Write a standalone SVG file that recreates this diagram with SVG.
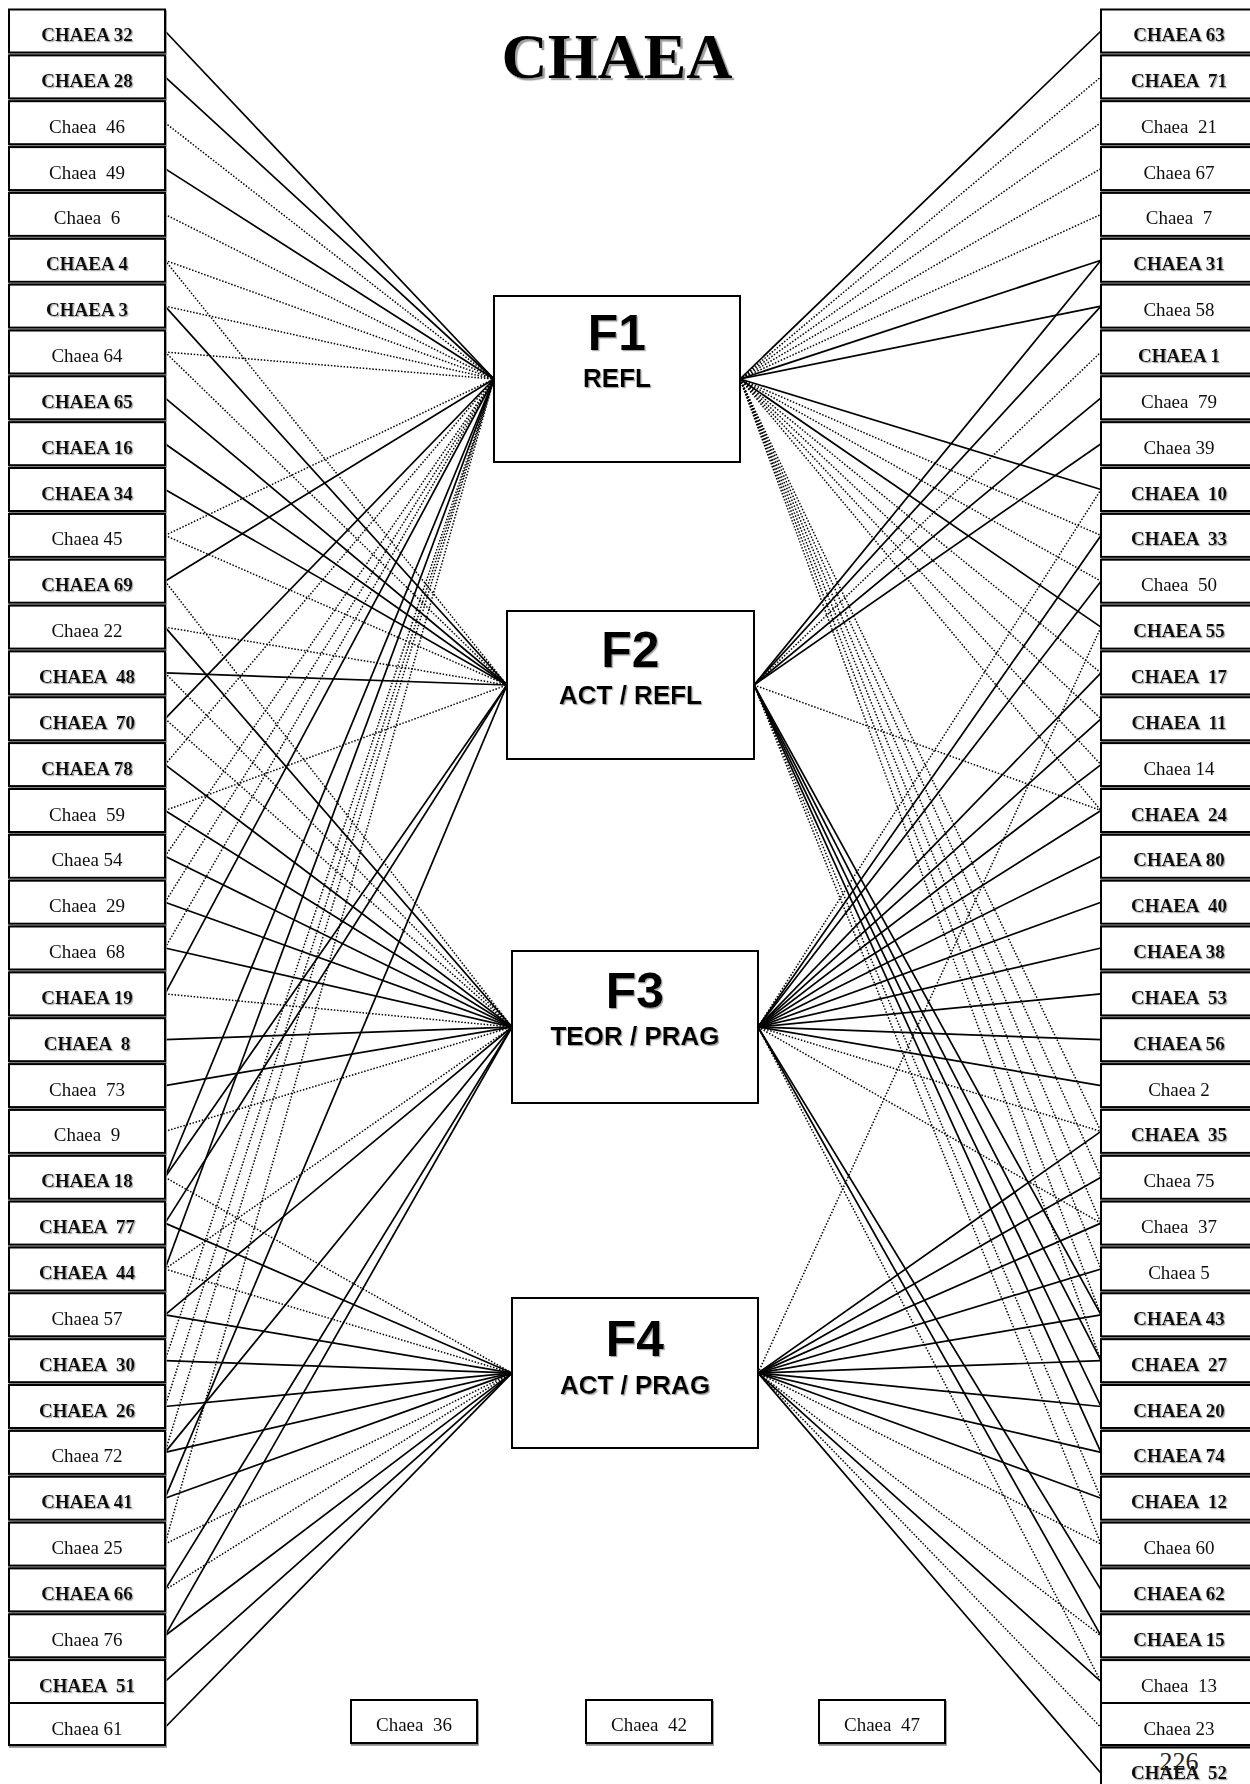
<svg xmlns="http://www.w3.org/2000/svg" width="1250" height="1784" viewBox="0 0 1250 1784">
<defs>
<filter id="ts" x="-10%" y="-20%" width="130%" height="160%"><feDropShadow dx="1.2" dy="1.2" stdDeviation="0.3" flood-color="#a8a8a8" flood-opacity="1"/></filter>
<filter id="tsb" x="-10%" y="-20%" width="130%" height="160%"><feDropShadow dx="2.2" dy="2.2" stdDeviation="0.6" flood-color="#a0a0a0" flood-opacity="1"/></filter>
<filter id="bs" x="-5%" y="-10%" width="110%" height="130%"><feDropShadow dx="0.8" dy="1.8" stdDeviation="0.3" flood-color="#888" flood-opacity="1"/></filter>
</defs>
<style>
.box{fill:#fff;stroke:#000;stroke-width:2}
.sh{filter:url(#bs)}
.fbox{fill:#fff;stroke:#000;stroke-width:2}
.lb{font-family:"Liberation Serif","Times New Roman",serif;font-size:19px;text-anchor:middle;fill:#111;white-space:pre}
.b{font-weight:bold;filter:url(#ts)}
.ft{font-family:"Liberation Sans",Arial,sans-serif;font-weight:bold;text-anchor:middle;fill:#000;filter:url(#ts)}
.fn{font-size:50px}
.fs{font-size:26px}
.title{font-family:"Liberation Serif","Times New Roman",serif;font-weight:bold;font-size:64px;text-anchor:middle;filter:url(#tsb)}
.s{stroke:#000;stroke-width:1.7;fill:none}
.d{stroke:#000;stroke-width:1.5;stroke-dasharray:1.5 1.7;fill:none}
</style>
<rect width="1250" height="1784" fill="#fff"/>

<!-- connectors -->
<g id="connectors">
<!-- left column to factors -->
<line class="s" x1="165" y1="31" x2="494" y2="379"/>
<line class="s" x1="165" y1="76.9" x2="494" y2="379"/>
<line class="d" x1="165" y1="122.7" x2="494" y2="379"/>
<line class="s" x1="165" y1="168.6" x2="494" y2="379"/>
<line class="d" x1="165" y1="214.4" x2="494" y2="379"/>
<line class="d" x1="165" y1="260.3" x2="494" y2="379"/>
<line class="d" x1="165" y1="260.3" x2="507" y2="685"/>
<line class="d" x1="165" y1="306.1" x2="494" y2="379"/>
<line class="s" x1="165" y1="306.1" x2="507" y2="685"/>
<line class="d" x1="165" y1="352" x2="494" y2="379"/>
<line class="d" x1="165" y1="352" x2="507" y2="685"/>
<line class="s" x1="165" y1="397.8" x2="507" y2="685"/>
<line class="s" x1="165" y1="443.7" x2="507" y2="685"/>
<line class="s" x1="165" y1="489.5" x2="507" y2="685"/>
<line class="d" x1="165" y1="535.4" x2="494" y2="379"/>
<line class="d" x1="165" y1="535.4" x2="507" y2="685"/>
<line class="s" x1="165" y1="581.2" x2="494" y2="379"/>
<line class="d" x1="165" y1="581.2" x2="512" y2="1027"/>
<line class="d" x1="165" y1="627.1" x2="507" y2="685"/>
<line class="s" x1="165" y1="627.1" x2="512" y2="1027"/>
<line class="s" x1="165" y1="672.9" x2="507" y2="685"/>
<line class="d" x1="165" y1="672.9" x2="512" y2="1027"/>
<line class="s" x1="165" y1="718.8" x2="494" y2="379"/>
<line class="d" x1="165" y1="718.8" x2="512" y2="1027"/>
<line class="d" x1="165" y1="764.6" x2="494" y2="379"/>
<line class="s" x1="165" y1="764.6" x2="512" y2="1027"/>
<line class="d" x1="165" y1="810.5" x2="507" y2="685"/>
<line class="s" x1="165" y1="810.5" x2="512" y2="1027"/>
<line class="d" x1="165" y1="856.3" x2="494" y2="379"/>
<line class="s" x1="165" y1="856.3" x2="512" y2="1027"/>
<line class="d" x1="165" y1="902.2" x2="494" y2="379"/>
<line class="s" x1="165" y1="902.2" x2="512" y2="1027"/>
<line class="d" x1="165" y1="948" x2="494" y2="379"/>
<line class="s" x1="165" y1="948" x2="512" y2="1027"/>
<line class="s" x1="165" y1="993.9" x2="494" y2="379"/>
<line class="d" x1="165" y1="993.9" x2="512" y2="1027"/>
<line class="s" x1="165" y1="1039.7" x2="512" y2="1027"/>
<line class="s" x1="165" y1="1085.6" x2="512" y2="1027"/>
<line class="d" x1="165" y1="1131.4" x2="512" y2="1027"/>
<line class="s" x1="165" y1="1177.3" x2="494" y2="379"/>
<line class="s" x1="165" y1="1177.3" x2="507" y2="685"/>
<line class="d" x1="165" y1="1177.3" x2="512" y2="1373"/>
<line class="s" x1="165" y1="1223.1" x2="507" y2="685"/>
<line class="s" x1="165" y1="1223.1" x2="512" y2="1373"/>
<line class="s" x1="165" y1="1269" x2="494" y2="379"/>
<line class="d" x1="165" y1="1269" x2="512" y2="1027"/>
<line class="d" x1="165" y1="1269" x2="512" y2="1373"/>
<line class="s" x1="165" y1="1314.8" x2="512" y2="1027"/>
<line class="s" x1="165" y1="1314.8" x2="512" y2="1373"/>
<line class="d" x1="165" y1="1360.7" x2="494" y2="379"/>
<line class="s" x1="165" y1="1360.7" x2="512" y2="1373"/>
<line class="d" x1="165" y1="1406.5" x2="494" y2="379"/>
<line class="s" x1="165" y1="1406.5" x2="512" y2="1373"/>
<line class="d" x1="165" y1="1452.4" x2="494" y2="379"/>
<line class="s" x1="165" y1="1452.4" x2="512" y2="1027"/>
<line class="s" x1="165" y1="1452.4" x2="512" y2="1373"/>
<line class="s" x1="165" y1="1498.2" x2="507" y2="685"/>
<line class="s" x1="165" y1="1498.2" x2="512" y2="1373"/>
<line class="d" x1="165" y1="1544.1" x2="494" y2="379"/>
<line class="d" x1="165" y1="1544.1" x2="512" y2="1373"/>
<line class="s" x1="165" y1="1589.9" x2="512" y2="1027"/>
<line class="d" x1="165" y1="1589.9" x2="512" y2="1373"/>
<line class="s" x1="165" y1="1635.8" x2="512" y2="1027"/>
<line class="s" x1="165" y1="1635.8" x2="512" y2="1373"/>
<line class="s" x1="165" y1="1681.6" x2="512" y2="1373"/>
<line class="s" x1="165" y1="1727.5" x2="512" y2="1373"/>
<!-- factors to right column -->
<line class="s" x1="740" y1="379" x2="1101" y2="31"/>
<line class="d" x1="740" y1="379" x2="1101" y2="76.9"/>
<line class="d" x1="740" y1="379" x2="1101" y2="122.7"/>
<line class="d" x1="740" y1="379" x2="1101" y2="168.6"/>
<line class="d" x1="740" y1="379" x2="1101" y2="214.4"/>
<line class="s" x1="740" y1="379" x2="1101" y2="260.3"/>
<line class="s" x1="754" y1="685" x2="1101" y2="260.3"/>
<line class="s" x1="740" y1="379" x2="1101" y2="306.1"/>
<line class="s" x1="754" y1="685" x2="1101" y2="306.1"/>
<line class="d" x1="754" y1="685" x2="1101" y2="352"/>
<line class="s" x1="754" y1="685" x2="1101" y2="397.8"/>
<line class="s" x1="754" y1="685" x2="1101" y2="443.7"/>
<line class="s" x1="740" y1="379" x2="1101" y2="489.5"/>
<line class="d" x1="758" y1="1027" x2="1101" y2="489.5"/>
<line class="d" x1="740" y1="379" x2="1101" y2="535.4"/>
<line class="s" x1="758" y1="1027" x2="1101" y2="535.4"/>
<line class="d" x1="740" y1="379" x2="1101" y2="581.2"/>
<line class="s" x1="758" y1="1027" x2="1101" y2="581.2"/>
<line class="s" x1="740" y1="379" x2="1101" y2="627.1"/>
<line class="d" x1="758" y1="1373" x2="1101" y2="627.1"/>
<line class="d" x1="740" y1="379" x2="1101" y2="672.9"/>
<line class="s" x1="758" y1="1027" x2="1101" y2="672.9"/>
<line class="d" x1="740" y1="379" x2="1101" y2="718.8"/>
<line class="s" x1="758" y1="1027" x2="1101" y2="718.8"/>
<line class="d" x1="740" y1="379" x2="1101" y2="764.6"/>
<line class="s" x1="758" y1="1027" x2="1101" y2="764.6"/>
<line class="d" x1="740" y1="379" x2="1101" y2="810.5"/>
<line class="d" x1="754" y1="685" x2="1101" y2="810.5"/>
<line class="s" x1="758" y1="1027" x2="1101" y2="810.5"/>
<line class="s" x1="758" y1="1027" x2="1101" y2="856.3"/>
<line class="s" x1="758" y1="1027" x2="1101" y2="902.2"/>
<line class="s" x1="758" y1="1027" x2="1101" y2="948"/>
<line class="s" x1="758" y1="1027" x2="1101" y2="993.9"/>
<line class="s" x1="758" y1="1027" x2="1101" y2="1039.7"/>
<line class="s" x1="758" y1="1027" x2="1101" y2="1085.6"/>
<line class="d" x1="740" y1="379" x2="1101" y2="1131.4"/>
<line class="d" x1="758" y1="1027" x2="1101" y2="1131.4"/>
<line class="s" x1="758" y1="1373" x2="1101" y2="1131.4"/>
<line class="d" x1="740" y1="379" x2="1101" y2="1177.3"/>
<line class="s" x1="758" y1="1373" x2="1101" y2="1177.3"/>
<line class="d" x1="740" y1="379" x2="1101" y2="1223.1"/>
<line class="d" x1="758" y1="1027" x2="1101" y2="1223.1"/>
<line class="s" x1="758" y1="1373" x2="1101" y2="1223.1"/>
<line class="d" x1="740" y1="379" x2="1101" y2="1269"/>
<line class="s" x1="758" y1="1373" x2="1101" y2="1269"/>
<line class="d" x1="740" y1="379" x2="1101" y2="1314.8"/>
<line class="s" x1="754" y1="685" x2="1101" y2="1314.8"/>
<line class="s" x1="758" y1="1373" x2="1101" y2="1314.8"/>
<line class="d" x1="740" y1="379" x2="1101" y2="1360.7"/>
<line class="s" x1="754" y1="685" x2="1101" y2="1360.7"/>
<line class="s" x1="758" y1="1373" x2="1101" y2="1360.7"/>
<line class="s" x1="754" y1="685" x2="1101" y2="1406.5"/>
<line class="s" x1="758" y1="1373" x2="1101" y2="1406.5"/>
<line class="s" x1="754" y1="685" x2="1101" y2="1452.4"/>
<line class="s" x1="758" y1="1373" x2="1101" y2="1452.4"/>
<line class="d" x1="754" y1="685" x2="1101" y2="1498.2"/>
<line class="s" x1="758" y1="1373" x2="1101" y2="1498.2"/>
<line class="d" x1="754" y1="685" x2="1101" y2="1544.1"/>
<line class="d" x1="758" y1="1373" x2="1101" y2="1544.1"/>
<line class="s" x1="758" y1="1027" x2="1101" y2="1589.9"/>
<line class="s" x1="758" y1="1027" x2="1101" y2="1635.8"/>
<line class="d" x1="758" y1="1373" x2="1101" y2="1635.8"/>
<line class="d" x1="758" y1="1027" x2="1101" y2="1681.6"/>
<line class="s" x1="758" y1="1373" x2="1101" y2="1681.6"/>
<line class="d" x1="758" y1="1373" x2="1101" y2="1727.5"/>
<line class="s" x1="758" y1="1373" x2="1101" y2="1773.3"/>
</g>

<text class="title" x="617" y="78">CHAEA</text>

<!-- factor boxes -->
<g id="F1"><rect class="fbox" x="494" y="296" width="246" height="166"/><text class="ft fn" x="617" y="350">F1</text><text class="ft fs" x="617" y="387">REFL</text></g>
<g id="F2"><rect class="fbox" x="507" y="611" width="247" height="148"/><text class="ft fn" x="630.5" y="667">F2</text><text class="ft fs" x="630.5" y="704">ACT / REFL</text></g>
<g id="F3"><rect class="fbox" x="512" y="951" width="246" height="152"/><text class="ft fn" x="635" y="1008">F3</text><text class="ft fs" x="635" y="1045">TEOR / PRAG</text></g>
<g id="F4"><rect class="fbox" x="512" y="1298" width="246" height="150"/><text class="ft fn" x="635" y="1356">F4</text><text class="ft fs" x="635" y="1394">ACT / PRAG</text></g>

<!-- left column -->
<g id="L32" class="sh"><rect class="box" x="9" y="9.5" width="156" height="43"/><text class="lb b" x="87" y="41" xml:space="preserve">CHAEA 32</text></g>
<g id="L28" class="sh"><rect class="box" x="9" y="55.4" width="156" height="43"/><text class="lb b" x="87" y="86.9" xml:space="preserve">CHAEA 28</text></g>
<g id="L46" class="sh"><rect class="box" x="9" y="101.2" width="156" height="43"/><text class="lb" x="87" y="132.7" xml:space="preserve">Chaea  46</text></g>
<g id="L49" class="sh"><rect class="box" x="9" y="147.1" width="156" height="43"/><text class="lb" x="87" y="178.6" xml:space="preserve">Chaea  49</text></g>
<g id="L6" class="sh"><rect class="box" x="9" y="192.9" width="156" height="43"/><text class="lb" x="87" y="224.4" xml:space="preserve">Chaea  6</text></g>
<g id="L4" class="sh"><rect class="box" x="9" y="238.8" width="156" height="43"/><text class="lb b" x="87" y="270.3" xml:space="preserve">CHAEA 4</text></g>
<g id="L3" class="sh"><rect class="box" x="9" y="284.6" width="156" height="43"/><text class="lb b" x="87" y="316.1" xml:space="preserve">CHAEA 3</text></g>
<g id="L64" class="sh"><rect class="box" x="9" y="330.5" width="156" height="43"/><text class="lb" x="87" y="362" xml:space="preserve">Chaea 64</text></g>
<g id="L65" class="sh"><rect class="box" x="9" y="376.3" width="156" height="43"/><text class="lb b" x="87" y="407.8" xml:space="preserve">CHAEA 65</text></g>
<g id="L16" class="sh"><rect class="box" x="9" y="422.2" width="156" height="43"/><text class="lb b" x="87" y="453.7" xml:space="preserve">CHAEA 16</text></g>
<g id="L34" class="sh"><rect class="box" x="9" y="468" width="156" height="43"/><text class="lb b" x="87" y="499.5" xml:space="preserve">CHAEA 34</text></g>
<g id="L45" class="sh"><rect class="box" x="9" y="513.9" width="156" height="43"/><text class="lb" x="87" y="545.4" xml:space="preserve">Chaea 45</text></g>
<g id="L69" class="sh"><rect class="box" x="9" y="559.7" width="156" height="43"/><text class="lb b" x="87" y="591.2" xml:space="preserve">CHAEA 69</text></g>
<g id="L22" class="sh"><rect class="box" x="9" y="605.6" width="156" height="43"/><text class="lb" x="87" y="637.1" xml:space="preserve">Chaea 22</text></g>
<g id="L48" class="sh"><rect class="box" x="9" y="651.4" width="156" height="43"/><text class="lb b" x="87" y="682.9" xml:space="preserve">CHAEA  48</text></g>
<g id="L70" class="sh"><rect class="box" x="9" y="697.3" width="156" height="43"/><text class="lb b" x="87" y="728.8" xml:space="preserve">CHAEA  70</text></g>
<g id="L78" class="sh"><rect class="box" x="9" y="743.1" width="156" height="43"/><text class="lb b" x="87" y="774.6" xml:space="preserve">CHAEA 78</text></g>
<g id="L59" class="sh"><rect class="box" x="9" y="789" width="156" height="43"/><text class="lb" x="87" y="820.5" xml:space="preserve">Chaea  59</text></g>
<g id="L54" class="sh"><rect class="box" x="9" y="834.8" width="156" height="43"/><text class="lb" x="87" y="866.3" xml:space="preserve">Chaea 54</text></g>
<g id="L29" class="sh"><rect class="box" x="9" y="880.7" width="156" height="43"/><text class="lb" x="87" y="912.2" xml:space="preserve">Chaea  29</text></g>
<g id="L68" class="sh"><rect class="box" x="9" y="926.5" width="156" height="43"/><text class="lb" x="87" y="958" xml:space="preserve">Chaea  68</text></g>
<g id="L19" class="sh"><rect class="box" x="9" y="972.4" width="156" height="43"/><text class="lb b" x="87" y="1003.9" xml:space="preserve">CHAEA 19</text></g>
<g id="L8" class="sh"><rect class="box" x="9" y="1018.2" width="156" height="43"/><text class="lb b" x="87" y="1049.7" xml:space="preserve">CHAEA  8</text></g>
<g id="L73" class="sh"><rect class="box" x="9" y="1064.1" width="156" height="43"/><text class="lb" x="87" y="1095.6" xml:space="preserve">Chaea  73</text></g>
<g id="L9" class="sh"><rect class="box" x="9" y="1109.9" width="156" height="43"/><text class="lb" x="87" y="1141.4" xml:space="preserve">Chaea  9</text></g>
<g id="L18" class="sh"><rect class="box" x="9" y="1155.8" width="156" height="43"/><text class="lb b" x="87" y="1187.3" xml:space="preserve">CHAEA 18</text></g>
<g id="L77" class="sh"><rect class="box" x="9" y="1201.6" width="156" height="43"/><text class="lb b" x="87" y="1233.1" xml:space="preserve">CHAEA  77</text></g>
<g id="L44" class="sh"><rect class="box" x="9" y="1247.5" width="156" height="43"/><text class="lb b" x="87" y="1279" xml:space="preserve">CHAEA  44</text></g>
<g id="L57" class="sh"><rect class="box" x="9" y="1293.3" width="156" height="43"/><text class="lb" x="87" y="1324.8" xml:space="preserve">Chaea 57</text></g>
<g id="L30" class="sh"><rect class="box" x="9" y="1339.2" width="156" height="43"/><text class="lb b" x="87" y="1370.7" xml:space="preserve">CHAEA  30</text></g>
<g id="L26" class="sh"><rect class="box" x="9" y="1385" width="156" height="43"/><text class="lb b" x="87" y="1416.5" xml:space="preserve">CHAEA  26</text></g>
<g id="L72" class="sh"><rect class="box" x="9" y="1430.9" width="156" height="43"/><text class="lb" x="87" y="1462.4" xml:space="preserve">Chaea 72</text></g>
<g id="L41" class="sh"><rect class="box" x="9" y="1476.7" width="156" height="43"/><text class="lb b" x="87" y="1508.2" xml:space="preserve">CHAEA 41</text></g>
<g id="L25" class="sh"><rect class="box" x="9" y="1522.6" width="156" height="43"/><text class="lb" x="87" y="1554.1" xml:space="preserve">Chaea 25</text></g>
<g id="L66" class="sh"><rect class="box" x="9" y="1568.4" width="156" height="43"/><text class="lb b" x="87" y="1599.9" xml:space="preserve">CHAEA 66</text></g>
<g id="L76" class="sh"><rect class="box" x="9" y="1614.3" width="156" height="43"/><text class="lb" x="87" y="1645.8" xml:space="preserve">Chaea 76</text></g>
<g id="L51" class="sh"><rect class="box" x="9" y="1660.1" width="156" height="43"/><text class="lb b" x="87" y="1691.6" xml:space="preserve">CHAEA  51</text></g>
<g id="L61" class="sh"><rect class="box" x="9" y="1703" width="156" height="42"/><text class="lb" x="87" y="1735" xml:space="preserve">Chaea 61</text></g>

<!-- right column -->
<g id="R63" class="sh"><rect class="box" x="1101" y="9.5" width="156" height="43"/><text class="lb b" x="1179" y="41" xml:space="preserve">CHAEA 63</text></g>
<g id="R71" class="sh"><rect class="box" x="1101" y="55.4" width="156" height="43"/><text class="lb b" x="1179" y="86.9" xml:space="preserve">CHAEA  71</text></g>
<g id="R21" class="sh"><rect class="box" x="1101" y="101.2" width="156" height="43"/><text class="lb" x="1179" y="132.7" xml:space="preserve">Chaea  21</text></g>
<g id="R67" class="sh"><rect class="box" x="1101" y="147.1" width="156" height="43"/><text class="lb" x="1179" y="178.6" xml:space="preserve">Chaea 67</text></g>
<g id="R7" class="sh"><rect class="box" x="1101" y="192.9" width="156" height="43"/><text class="lb" x="1179" y="224.4" xml:space="preserve">Chaea  7</text></g>
<g id="R31" class="sh"><rect class="box" x="1101" y="238.8" width="156" height="43"/><text class="lb b" x="1179" y="270.3" xml:space="preserve">CHAEA 31</text></g>
<g id="R58" class="sh"><rect class="box" x="1101" y="284.6" width="156" height="43"/><text class="lb" x="1179" y="316.1" xml:space="preserve">Chaea 58</text></g>
<g id="R1" class="sh"><rect class="box" x="1101" y="330.5" width="156" height="43"/><text class="lb b" x="1179" y="362" xml:space="preserve">CHAEA 1</text></g>
<g id="R79" class="sh"><rect class="box" x="1101" y="376.3" width="156" height="43"/><text class="lb" x="1179" y="407.8" xml:space="preserve">Chaea  79</text></g>
<g id="R39" class="sh"><rect class="box" x="1101" y="422.2" width="156" height="43"/><text class="lb" x="1179" y="453.7" xml:space="preserve">Chaea 39</text></g>
<g id="R10" class="sh"><rect class="box" x="1101" y="468" width="156" height="43"/><text class="lb b" x="1179" y="499.5" xml:space="preserve">CHAEA  10</text></g>
<g id="R33" class="sh"><rect class="box" x="1101" y="513.9" width="156" height="43"/><text class="lb b" x="1179" y="545.4" xml:space="preserve">CHAEA  33</text></g>
<g id="R50" class="sh"><rect class="box" x="1101" y="559.7" width="156" height="43"/><text class="lb" x="1179" y="591.2" xml:space="preserve">Chaea  50</text></g>
<g id="R55" class="sh"><rect class="box" x="1101" y="605.6" width="156" height="43"/><text class="lb b" x="1179" y="637.1" xml:space="preserve">CHAEA 55</text></g>
<g id="R17" class="sh"><rect class="box" x="1101" y="651.4" width="156" height="43"/><text class="lb b" x="1179" y="682.9" xml:space="preserve">CHAEA  17</text></g>
<g id="R11" class="sh"><rect class="box" x="1101" y="697.3" width="156" height="43"/><text class="lb b" x="1179" y="728.8" xml:space="preserve">CHAEA  11</text></g>
<g id="R14" class="sh"><rect class="box" x="1101" y="743.1" width="156" height="43"/><text class="lb" x="1179" y="774.6" xml:space="preserve">Chaea 14</text></g>
<g id="R24" class="sh"><rect class="box" x="1101" y="789" width="156" height="43"/><text class="lb b" x="1179" y="820.5" xml:space="preserve">CHAEA  24</text></g>
<g id="R80" class="sh"><rect class="box" x="1101" y="834.8" width="156" height="43"/><text class="lb b" x="1179" y="866.3" xml:space="preserve">CHAEA 80</text></g>
<g id="R40" class="sh"><rect class="box" x="1101" y="880.7" width="156" height="43"/><text class="lb b" x="1179" y="912.2" xml:space="preserve">CHAEA  40</text></g>
<g id="R38" class="sh"><rect class="box" x="1101" y="926.5" width="156" height="43"/><text class="lb b" x="1179" y="958" xml:space="preserve">CHAEA 38</text></g>
<g id="R53" class="sh"><rect class="box" x="1101" y="972.4" width="156" height="43"/><text class="lb b" x="1179" y="1003.9" xml:space="preserve">CHAEA  53</text></g>
<g id="R56" class="sh"><rect class="box" x="1101" y="1018.2" width="156" height="43"/><text class="lb b" x="1179" y="1049.7" xml:space="preserve">CHAEA 56</text></g>
<g id="R2" class="sh"><rect class="box" x="1101" y="1064.1" width="156" height="43"/><text class="lb" x="1179" y="1095.6" xml:space="preserve">Chaea 2</text></g>
<g id="R35" class="sh"><rect class="box" x="1101" y="1109.9" width="156" height="43"/><text class="lb b" x="1179" y="1141.4" xml:space="preserve">CHAEA  35</text></g>
<g id="R75" class="sh"><rect class="box" x="1101" y="1155.8" width="156" height="43"/><text class="lb" x="1179" y="1187.3" xml:space="preserve">Chaea 75</text></g>
<g id="R37" class="sh"><rect class="box" x="1101" y="1201.6" width="156" height="43"/><text class="lb" x="1179" y="1233.1" xml:space="preserve">Chaea  37</text></g>
<g id="R5" class="sh"><rect class="box" x="1101" y="1247.5" width="156" height="43"/><text class="lb" x="1179" y="1279" xml:space="preserve">Chaea 5</text></g>
<g id="R43" class="sh"><rect class="box" x="1101" y="1293.3" width="156" height="43"/><text class="lb b" x="1179" y="1324.8" xml:space="preserve">CHAEA 43</text></g>
<g id="R27" class="sh"><rect class="box" x="1101" y="1339.2" width="156" height="43"/><text class="lb b" x="1179" y="1370.7" xml:space="preserve">CHAEA  27</text></g>
<g id="R20" class="sh"><rect class="box" x="1101" y="1385" width="156" height="43"/><text class="lb b" x="1179" y="1416.5" xml:space="preserve">CHAEA 20</text></g>
<g id="R74" class="sh"><rect class="box" x="1101" y="1430.9" width="156" height="43"/><text class="lb b" x="1179" y="1462.4" xml:space="preserve">CHAEA 74</text></g>
<g id="R12" class="sh"><rect class="box" x="1101" y="1476.7" width="156" height="43"/><text class="lb b" x="1179" y="1508.2" xml:space="preserve">CHAEA  12</text></g>
<g id="R60" class="sh"><rect class="box" x="1101" y="1522.6" width="156" height="43"/><text class="lb" x="1179" y="1554.1" xml:space="preserve">Chaea 60</text></g>
<g id="R62" class="sh"><rect class="box" x="1101" y="1568.4" width="156" height="43"/><text class="lb b" x="1179" y="1599.9" xml:space="preserve">CHAEA 62</text></g>
<g id="R15" class="sh"><rect class="box" x="1101" y="1614.3" width="156" height="43"/><text class="lb b" x="1179" y="1645.8" xml:space="preserve">CHAEA 15</text></g>
<g id="R13" class="sh"><rect class="box" x="1101" y="1660.1" width="156" height="43"/><text class="lb" x="1179" y="1691.6" xml:space="preserve">Chaea  13</text></g>
<g id="R23" class="sh"><rect class="box" x="1101" y="1703" width="156" height="42"/><text class="lb" x="1179" y="1735" xml:space="preserve">Chaea 23</text></g>
<g id="R52" class="sh"><rect class="box" x="1101" y="1747.5" width="156" height="43"/><text class="lb b" x="1179" y="1779" xml:space="preserve">CHAEA  52</text></g>

<!-- unconnected items -->
<g id="B36" class="sh"><rect class="box" x="351" y="1700" width="126" height="43"/><text class="lb" x="414" y="1731" xml:space="preserve">Chaea  36</text></g>
<g id="B42" class="sh"><rect class="box" x="586" y="1700" width="126" height="43"/><text class="lb" x="649" y="1731" xml:space="preserve">Chaea  42</text></g>
<g id="B47" class="sh"><rect class="box" x="819" y="1700" width="126" height="43"/><text class="lb" x="882" y="1731" xml:space="preserve">Chaea  47</text></g>

<text x="1179" y="1770" font-family="Liberation Serif, serif" font-size="26" text-anchor="middle" fill="#222">226</text>
</svg>
